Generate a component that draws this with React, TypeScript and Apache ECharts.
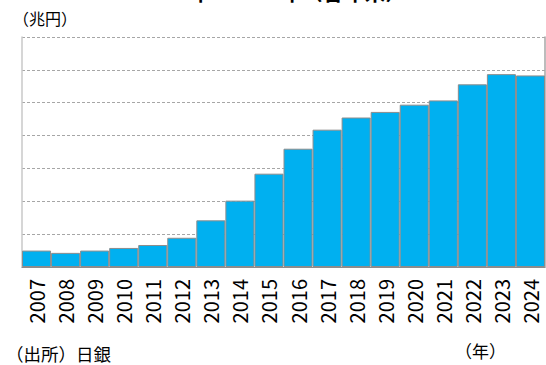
import React, { useEffect, useRef } from "react";
import * as echarts from "echarts";

const years = ["2007","2008","2009","2010","2011","2012","2013","2014","2015","2016","2017","2018","2019","2020","2021","2022","2023","2024"];
const holdings = [50, 43, 50, 58, 67, 89, 142, 202, 284, 360, 418, 455, 472, 494, 507, 556, 587, 583];
const yMin = 0;
const yMax = 700;
const yInterval = 100;

const FONT = "'Noto Sans CJK JP', 'Noto Sans', sans-serif";

export default function App() {
  const ref = useRef<HTMLDivElement>(null);
  useEffect(() => {
    if (!ref.current) return;
    const chart = echarts.init(ref.current, null, { renderer: "svg" });
    chart.setOption({
      animation: false,
      grid: { left: 22, right: 1, top: 37, bottom: 98, containLabel: false },
      xAxis: {
        type: "category",
        data: years,
        axisLine: { show: true, lineStyle: { color: "#8c8c8c", width: 1 } },
        axisTick: { show: false },
        axisLabel: {
          rotate: 90,
          interval: 0,
          margin: 12,
          fontSize: 20,
          color: "#000",
          fontFamily: FONT,
        },
      },
      yAxis: [
        {
          type: "value",
          min: yMin,
          max: yMax,
          interval: yInterval,
          axisLabel: { show: false },
          axisTick: { show: false },
          axisLine: { show: true, lineStyle: { color: "#c8c8c8", width: 1.5 } },
          splitLine: { show: true, lineStyle: { color: "#a6a6a6", type: [3, 2], width: 1 } },
        },
        {
          type: "value",
          position: "right",
          min: yMin,
          max: yMax,
          interval: yInterval,
          axisLabel: { show: false },
          axisTick: { show: false },
          axisLine: { show: true, lineStyle: { color: "#a6a6a6", width: 1.5 } },
          splitLine: { show: false },
        },
      ],
      series: [
        {
          type: "bar",
          data: holdings,
          barCategoryGap: "0%",
          itemStyle: { color: "#00B0F0", borderColor: "#8c8c8c", borderWidth: 1 },
        },
      ],
      graphic: [
        {
          type: "text",
          left: "center",
          top: -20,
          style: {
            text: "2007年～2024年（各年末）",
            fontSize: 21,
            fontWeight: "bold",
            fill: "#000",
            fontFamily: FONT,
          },
        },
        {
          type: "text",
          x: 13,
          y: 18,
          style: {
            text: "（兆円）",
            fontSize: 16,
            fill: "#000",
            fontFamily: FONT,
            verticalAlign: "middle",
          },
        },
        {
          type: "text",
          x: 6,
          y: 353,
          style: {
            text: "（出所）日銀",
            fontSize: 17.5,
            fill: "#000",
            fontFamily: FONT,
            verticalAlign: "middle",
          },
        },
        {
          type: "text",
          x: 455,
          y: 350,
          style: {
            text: "（年）",
            fontSize: 17,
            fill: "#000",
            fontFamily: FONT,
            verticalAlign: "middle",
          },
        },
      ],
    });
    return () => chart.dispose();
  }, []);
  return (
    <div
      ref={ref}
      style={{ position: "fixed", left: 0, top: 0, width: 546, height: 365, background: "#fff" }}
    />
  );
}
